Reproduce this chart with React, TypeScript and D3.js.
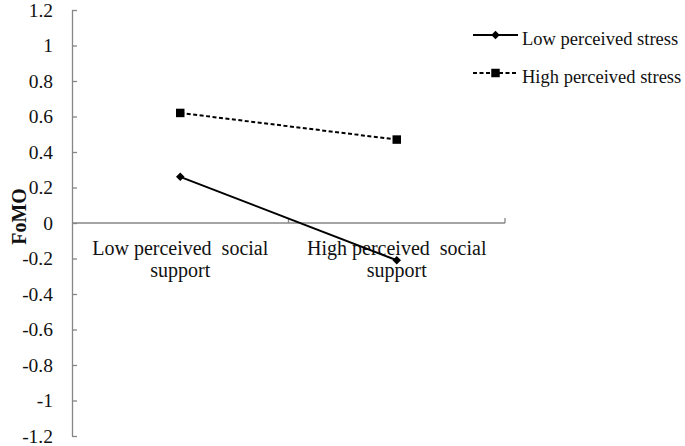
import React, { useEffect, useRef } from 'react';
import * as d3 from 'd3';

const categories = ['Low perceived social support', 'High perceived social support'];
const categoryLines = [
  ['Low perceived  social', 'support'],
  ['High perceived  social', 'support'],
];
const lowStress = [0.26, -0.21];
const highStress = [0.62, 0.47];
const yTicks = [-1.2, -1, -0.8, -0.6, -0.4, -0.2, 0, 0.2, 0.4, 0.6, 0.8, 1, 1.2];
const seriesNames = ['Low perceived stress', 'High perceived stress'];

const App = () => {
  const ref = useRef<SVGSVGElement>(null);

  useEffect(() => {
    const svg = d3.select(ref.current);
    svg.selectAll('*').remove();

    const font = '"Liberation Serif", "Times New Roman", serif';
    const left = 72, right = 505, top = 10, bottom = 436;

    const x = d3.scaleBand().domain(categories).range([left, right]);
    const y = d3.scaleLinear().domain([-1.2, 1.2]).range([bottom, top]);
    const cx = (i: number) => x(categories[i])! + x.bandwidth() / 2;

    // y axis
    const yAxis = svg.append('g').attr('transform', `translate(${left},0)`)
      .call(d3.axisLeft(y).tickValues(yTicks).tickSizeInner(-5).tickSizeOuter(0)
        .tickPadding(19).tickFormat(d => String(d)));
    yAxis.select('.domain').attr('stroke', '#868686').attr('stroke-width', 1.3);
    yAxis.selectAll('.tick line').attr('stroke', '#868686').attr('stroke-width', 1.3);
    yAxis.selectAll('text').attr('font-family', font).attr('font-size', 19.5).attr('fill', '#111');

    // x axis at zero
    const y0 = y(0);
    const xg = svg.append('g');
    xg.append('line').attr('x1', left).attr('x2', right).attr('y1', y0).attr('y2', y0)
      .attr('stroke', '#868686').attr('stroke-width', 1.3);
    [left + x.bandwidth(), right].forEach(t => {
      xg.append('line').attr('x1', t).attr('x2', t).attr('y1', y0).attr('y2', y0 - 5)
        .attr('stroke', '#868686').attr('stroke-width', 1.3);
    });
    categoryLines.forEach((lines, i) => {
      lines.forEach((ln, j) => {
        xg.append('text').attr('x', cx(i)).attr('y', y0 + 32 + j * 22)
          .attr('text-anchor', 'middle').attr('font-family', font).attr('font-size', 20)
          .attr('fill', '#111').style('white-space', 'pre').text(ln);
      });
    });

    // y label
    svg.append('text').attr('transform', `translate(26,${y0 - 6.5}) rotate(-90)`)
      .attr('text-anchor', 'middle').attr('font-family', font).attr('font-size', 20)
      .attr('font-weight', 'bold').attr('fill', '#111').text('FoMO');

    const line = d3.line<number>().x((_, i) => cx(i)).y(d => y(d));

    svg.append('path').datum(lowStress).attr('d', line).attr('fill', 'none')
      .attr('stroke', '#000').attr('stroke-width', 2);
    svg.append('path').datum(highStress).attr('d', line).attr('fill', 'none')
      .attr('stroke', '#000').attr('stroke-width', 2).attr('stroke-dasharray', '4,2.5');

    const diamond = d3.symbol().type(d3.symbolSquare).size(36);
    const square = d3.symbol().type(d3.symbolSquare).size(72);
    svg.selectAll('.dmd').data(lowStress).join('path')
      .attr('transform', (d, i) => `translate(${cx(i)},${y(d)}) rotate(45)`).attr('d', diamond()).attr('fill', '#000');
    svg.selectAll('.sq').data(highStress).join('path')
      .attr('transform', (d, i) => `translate(${cx(i)},${y(d)})`).attr('d', square()).attr('fill', '#000');

    // legend
    const lg = svg.append('g');
    seriesNames.forEach((name, i) => {
      const ly = 35 + i * 38;
      lg.append('line').attr('x1', 473).attr('x2', 518).attr('y1', ly).attr('y2', ly)
        .attr('stroke', '#000').attr('stroke-width', 2)
        .attr('stroke-dasharray', i === 1 ? '4,2.5' : null);
      lg.append('path').attr('transform', `translate(495.5,${ly})${i === 0 ? ' rotate(45)' : ''}`)
        .attr('d', i === 0 ? diamond() : square()).attr('fill', '#000');
      lg.append('text').attr('x', 522).attr('y', ly + 9.5).attr('font-family', font)
        .attr('font-size', 18.5).attr('fill', '#111').text(name);
    });
  }, []);

  return (
    <svg ref={ref} width={685} height={446}
      style={{ position: 'absolute', left: 0, top: 0, background: '#fff' }} />
  );
};

export default App;
